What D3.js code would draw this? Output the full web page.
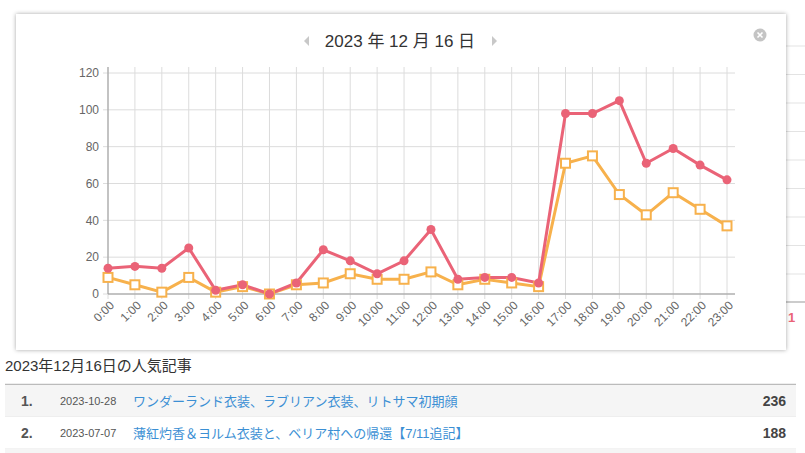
<!DOCTYPE html>
<html>
<head>
<meta charset="utf-8">
<script src="https://cdn.jsdelivr.net/npm/d3@7"></script>
<style>
  body { margin: 0; background: #fff; overflow: hidden; }
  svg { display: block; font-family: "Liberation Sans", Arial, "Noto Sans CJK JP", sans-serif; }
</style>
</head>
<body>
<div id="chart"></div>
<script>
// hourly access counts for 2023-12-16
const hours = ["0:00","1:00","2:00","3:00","4:00","5:00","6:00","7:00","8:00","9:00","10:00","11:00",
  "12:00","13:00","14:00","15:00","16:00","17:00","18:00","19:00","20:00","21:00","22:00","23:00"];
const pageViews = [14, 15, 14, 25, 2, 5, 0, 6, 24, 18, 11, 18, 35, 8, 9, 9, 6, 98, 98, 105, 71, 79, 70, 62];
const visitors  = [9, 5, 1, 9, 1, 4, 0, 5, 6, 11, 8, 8, 12, 5, 8, 6, 4, 71, 75, 54, 43, 55, 46, 37];
const yTicks = [0, 20, 40, 60, 80, 100, 120];

const ranks = ["1.", "2."];
const postDates = ["2023-10-28", "2023-07-07"];
const postTitles = ["ワンダーランド衣装、ラブリアン衣装、リトサマ初期顔", "薄紅灼香＆ヨルム衣装と、ベリア村への帰還【7/11追記】"];
const postCounts = [236, 188];

const svg = d3.select("#chart")
  .append("svg")
    .attr("width", 805)
    .attr("height", 453);

const defs = svg.append("defs");
const shadow = defs.append("filter").attr("id", "shadow")
  .attr("x", -0.05).attr("y", -0.05).attr("width", 1.1).attr("height", 1.1);
shadow.append("feDropShadow")
  .attr("dx", 0).attr("dy", 0).attr("stdDeviation", 2)
  .attr("flood-color", "#000").attr("flood-opacity", 0.35);

// page behind the popup (right edge of another chart)
const bgLines = d3.range(9).map(i => 46 + i * 28.5);
svg.selectAll("line.bg-grid")
  .data(bgLines)
  .join("line")
  .attr("class", "bg-grid")
  .attr("x1", 786).attr("x2", 805)
  .attr("y1", d => d).attr("y2", d => d)
  .attr("stroke", "#e3e3e3");
svg.append("line")
  .attr("x1", 786).attr("x2", 805).attr("y1", 302).attr("y2", 302)
  .attr("stroke", "#999");
svg.append("text")
  .attr("x", 788).attr("y", 322)
  .text("1")
  .style("font-size", "13px").style("font-weight", "bold")
  .attr("fill", "#ea6377");

// popup box
svg.append("rect")
  .attr("x", 16).attr("y", 14)
  .attr("width", 770).attr("height", 336)
  .attr("fill", "#fff")
  .attr("filter", "url(#shadow)");

// title with prev/next arrows
svg.append("text")
  .attr("x", 400).attr("y", 47)
  .attr("text-anchor", "middle")
  .text("2023 年 12 月 16 日")
  .style("font-size", "17px")
  .attr("fill", "#333");
svg.append("path")
  .attr("d", "M309,36 L304,41 L309,46 Z")
  .attr("fill", "#c8c8c8");
svg.append("path")
  .attr("d", "M492,36 L497,41 L492,46 Z")
  .attr("fill", "#c8c8c8");

// close button
const closeBtn = svg.append("g").attr("transform", "translate(760,35)");
closeBtn.append("circle").attr("r", 6.5).attr("fill", "#c4c4c4");
closeBtn.append("path")
  .attr("d", "M-2.5,-2.5 L2.5,2.5 M2.5,-2.5 L-2.5,2.5")
  .attr("stroke", "#fff").attr("stroke-width", 1.6);

// chart
const plotLeft = 108, plotRight = 735, plotTop = 67, plotBottom = 294;

const xScale = d3.scalePoint()
  .domain(hours)
  .range([plotLeft, 727]);

const yScale = d3.scaleLinear()
  .domain([0, 120])
  .range([plotBottom, 73]);

const grid = svg.append("g").attr("class", "grid");
grid.selectAll("line.vgrid")
  .data(hours)
  .join("line")
  .attr("class", "vgrid")
  .attr("x1", d => xScale(d)).attr("x2", d => xScale(d))
  .attr("y1", plotTop).attr("y2", plotBottom + 5)
  .attr("stroke", "#dcdcdc");
grid.selectAll("line.hgrid")
  .data(yTicks)
  .join("line")
  .attr("class", "hgrid")
  .attr("x1", plotLeft - 5).attr("x2", plotRight)
  .attr("y1", d => yScale(d)).attr("y2", d => yScale(d))
  .attr("stroke", "#dcdcdc");

// axis lines
svg.append("line")
  .attr("x1", plotLeft).attr("x2", plotLeft).attr("y1", plotTop).attr("y2", plotBottom)
  .attr("stroke", "#999");
svg.append("line")
  .attr("x1", plotLeft).attr("x2", plotRight).attr("y1", plotBottom).attr("y2", plotBottom)
  .attr("stroke", "#999");

// tick labels
svg.selectAll("text.ytick")
  .data(yTicks)
  .join("text")
  .attr("class", "ytick")
  .attr("x", plotLeft - 9)
  .attr("y", d => yScale(d))
  .attr("dy", "0.35em")
  .attr("text-anchor", "end")
  .text(d => d)
  .style("font-size", "12px")
  .attr("fill", "#666");

svg.selectAll("text.xtick")
  .data(hours)
  .join("text")
  .attr("class", "xtick")
  .attr("transform", d => `translate(${xScale(d) + 4}, ${plotBottom + 9}) rotate(-45)`)
  .attr("text-anchor", "end")
  .attr("dy", "0.35em")
  .text(d => d)
  .style("font-size", "12px")
  .attr("fill", "#666");

// series
const line = d3.line()
  .x((d, i) => xScale(hours[i]))
  .y(d => yScale(d));

svg.append("path")
  .datum(visitors)
  .attr("d", line)
  .attr("fill", "none")
  .attr("stroke", "#f7b14c")
  .attr("stroke-width", 3);

svg.append("path")
  .datum(pageViews)
  .attr("d", line)
  .attr("fill", "none")
  .attr("stroke", "#ea6377")
  .attr("stroke-width", 3);

svg.selectAll("rect.uu")
  .data(visitors)
  .join("rect")
  .attr("class", "uu")
  .attr("x", (d, i) => xScale(hours[i]) - 4.5)
  .attr("y", d => yScale(d) - 4.5)
  .attr("width", 9).attr("height", 9)
  .attr("fill", "#fff")
  .attr("stroke", "#f7b14c")
  .attr("stroke-width", 2);

svg.selectAll("circle.pv")
  .data(pageViews)
  .join("circle")
  .attr("class", "pv")
  .attr("cx", (d, i) => xScale(hours[i]))
  .attr("cy", d => yScale(d))
  .attr("r", 4.5)
  .attr("fill", "#ea6377");

// popular posts list
svg.append("text")
  .attr("x", 5).attr("y", 371)
  .text("2023年12月16日の人気記事")
  .style("font-size", "15px")
  .attr("fill", "#333");

const rowY = d3.scaleBand()
  .domain(ranks)
  .range([385, 449]);

svg.append("line")
  .attr("x1", 5).attr("x2", 796).attr("y1", 384.5).attr("y2", 384.5)
  .attr("stroke", "#bbb").attr("stroke-width", 1.5);

const rows = svg.selectAll("g.row")
  .data(ranks)
  .join("g")
  .attr("class", "row")
  .attr("transform", d => `translate(0, ${rowY(d)})`);

rows.append("rect")
  .attr("x", 5).attr("y", 0)
  .attr("width", 791).attr("height", rowY.bandwidth())
  .attr("fill", (d, i) => i % 2 === 0 ? "#f5f5f5" : "#fff");
rows.append("line")
  .attr("x1", 5).attr("x2", 796)
  .attr("y1", rowY.bandwidth()).attr("y2", rowY.bandwidth())
  .attr("stroke", "#e6e6e6");

const mid = rowY.bandwidth() / 2;
rows.append("text")
  .attr("x", 21).attr("y", mid).attr("dy", "0.35em")
  .text(d => d)
  .style("font-size", "14px").style("font-weight", "bold")
  .attr("fill", "#555");
rows.append("text")
  .attr("x", 60).attr("y", mid).attr("dy", "0.35em")
  .text((d, i) => postDates[i])
  .style("font-size", "11px")
  .attr("fill", "#555");
rows.append("text")
  .attr("x", 133).attr("y", mid).attr("dy", "0.35em")
  .text((d, i) => postTitles[i])
  .style("font-size", "13px")
  .attr("fill", "#3b8fd4");
rows.append("text")
  .attr("x", 786).attr("y", mid).attr("dy", "0.35em")
  .attr("text-anchor", "end")
  .text((d, i) => postCounts[i])
  .style("font-size", "14px").style("font-weight", "bold")
  .attr("fill", "#444");

svg.append("rect")
  .attr("x", 5).attr("y", 449)
  .attr("width", 791).attr("height", 4)
  .attr("fill", "#f5f5f5");
</script>
</body>
</html>
